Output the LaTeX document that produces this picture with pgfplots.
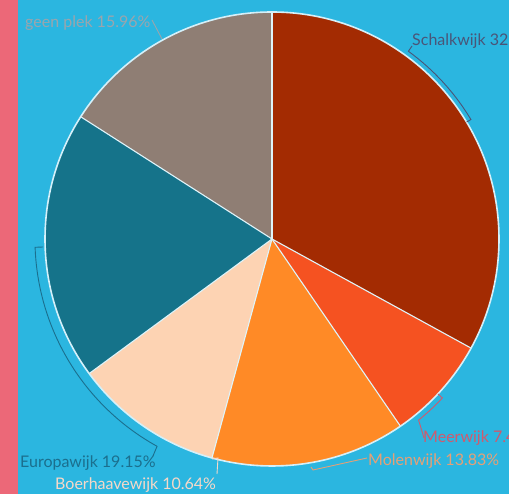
\documentclass[border=0pt]{standalone}
\usepackage{pgfplots}
\pgfplotsset{compat=1.18}
\usepackage{fontspec}
\setmainfont{Lato}
\definecolor{bg}{HTML}{2BB6E0}
\definecolor{stripe}{HTML}{EC6878}
\definecolor{cA}{HTML}{A32B02}
\definecolor{cB}{HTML}{F55221}
\definecolor{cC}{HTML}{FF8A26}
\definecolor{cD}{HTML}{FDD3B3}
\definecolor{cE}{HTML}{15738A}
\definecolor{cF}{HTML}{8F7E74}
\definecolor{lA}{HTML}{4A5578}
\definecolor{lB}{HTML}{D05A6E}
\definecolor{lC}{HTML}{E6A076}
\definecolor{lD}{HTML}{F6D8C8}
\definecolor{lE}{HTML}{1B6F8E}
\definecolor{lF}{HTML}{9AA5AD}
\newcommand\slice[3]{\fill[#3] (axis cs:272,255) -- ++(#1:227pt) arc[start angle=#1, end angle=#2, radius=227pt] -- cycle;}
\newcommand\sep[1]{\draw[white!85!bg,line width=1.1pt] (axis cs:272,255) -- ++(#1:227pt);}
\tikzset{lbl/.style={anchor=base west,inner sep=0pt,font=\fontsize{16}{18}\selectfont}}
\begin{document}
\begin{tikzpicture}
\useasboundingbox (0,0) rectangle (509pt,494pt);
\fill[bg] (0,0) rectangle (509pt,494pt);
\fill[stripe] (0,0) rectangle (18pt,494pt);
% shares in percent
\def\vA{32.98}% Schalkwijk
\def\vB{7.45}%  Meerwijk
\def\vC{13.83}% Molenwijk
\def\vD{10.64}% Boerhaavewijk
\def\vE{19.15}% Europawijk
\def\vF{15.96}% geen plek
\pgfmathsetmacro\aA{90}
\pgfmathsetmacro\aB{\aA-3.6*\vA}
\pgfmathsetmacro\aC{\aB-3.6*\vB}
\pgfmathsetmacro\aD{\aC-3.6*\vC}
\pgfmathsetmacro\aE{\aD-3.6*\vD}
\pgfmathsetmacro\aF{\aE-3.6*\vE}
\pgfmathsetmacro\aG{\aF-3.6*\vF}
\begin{axis}[at={(0,0)},anchor=south west,x=1pt,y=1pt,
  xmin=0,xmax=509,ymin=0,ymax=494,hide axis,clip=false]
\slice{\aA}{\aB}{cA}
\slice{\aB}{\aC}{cB}
\slice{\aC}{\aD}{cC}
\slice{\aD}{\aE}{cD}
\slice{\aE}{\aF}{cE}
\slice{\aF}{\aG}{cF}
\sep{\aA}\sep{\aB}\sep{\aC}\sep{\aD}\sep{\aE}\sep{\aF}
\draw[white!80!bg,line width=1.6pt] (axis cs:272,255) circle[radius=227pt];
% leader lines
\draw[lF,line width=0.9pt] (axis cs:152,474) -- (axis cs:162,455);
\draw[lA,line width=0.9pt] (axis cs:412,448) -- (axis cs:408.4,442.7) arc[start angle=54,end angle=31,radius=232pt] -- (axis cs:466.6,371.9);
\draw[lB,line width=0.9pt] (axis cs:424,56) -- (axis cs:418.6,73.9) arc[start angle=-51,end angle=-43,radius=233pt] -- (axis cs:438,100);
\draw[lC,line width=0.9pt] (axis cs:367,36) -- (axis cs:313,24) -- (axis cs:311,27);
\draw[lE,line width=0.9pt] (axis cs:43.1,247) -- (axis cs:35.1,246.7) arc[start angle=182,end angle=241,radius=237pt] -- (axis cs:153,38);
\draw[lD,line width=0.9pt] (axis cs:212,35) -- (axis cs:218,36) -- (axis cs:217,20);
% labels
\node[lbl,text=lF] at (axis cs:25,466) {geen plek 15.96\%};
\node[lbl,text=lA] at (axis cs:412,448) {Schalkwijk 32.98\%};
\node[lbl,text=lB] at (axis cs:423,51) {Meerwijk 7.45\%};
\node[lbl,text=lC] at (axis cs:368,28) {Molenwijk 13.83\%};
\node[lbl,text=lE] at (axis cs:20,26) {Europawijk 19.15\%};
\node[lbl,text=lD] at (axis cs:55,4) {Boerhaavewijk 10.64\%};
\end{axis}
\end{tikzpicture}
\end{document}
